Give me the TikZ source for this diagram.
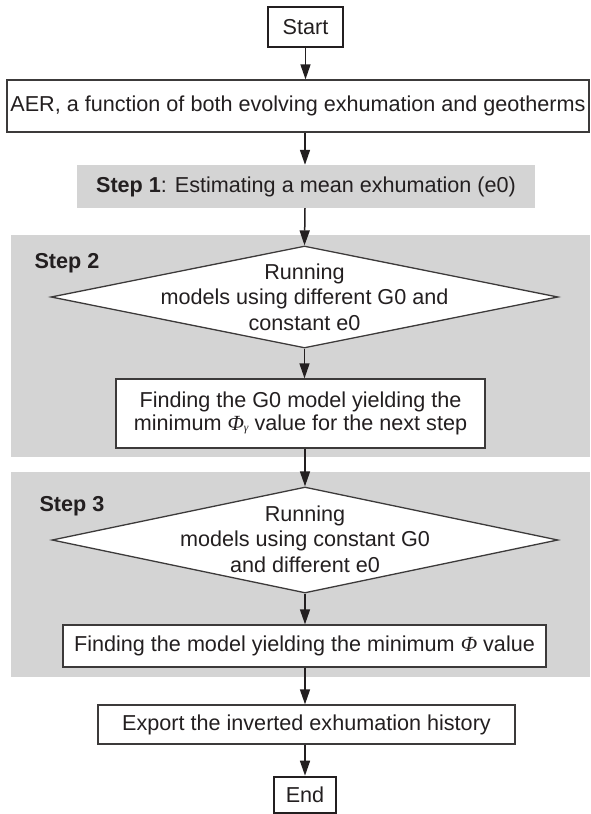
\documentclass[tikz,border=0pt]{standalone}
\usepackage{fontspec}
\setmainfont{Liberation Sans}
\newfontfamily\phifont{Liberation Serif}
\usetikzlibrary{arrows.meta,shapes.geometric}
\definecolor{panel}{RGB}{212,212,212}
\definecolor{ink}{RGB}{35,31,32}
\definecolor{edge}{RGB}{60,58,58}
\begin{document}
\begin{tikzpicture}[x=1pt,y=-1pt,
  every node/.style={font=\fontsize{21.6}{23}\selectfont, text=ink},
  box/.style={draw=edge, line width=1.3pt, fill=white, inner sep=0pt, anchor=center},
  termbox/.style={draw=ink, line width=2.6pt, fill=white, inner sep=0pt, anchor=center},
  greybox/.style={fill=panel, draw=none, inner sep=0pt, anchor=center},
  decision/.style={diamond, draw=edge, line width=1.3pt, fill=white, inner sep=0pt, aspect=4.9},
  dectext/.style={align=center, font=\fontsize{21.6}{25.5}\selectfont},
  flow/.style={draw=ink, line width=1.5pt, -{Triangle[length=15pt,width=10pt]}},
  steplabel/.style={font=\fontsize{21.6}{23}\selectfont\bfseries, anchor=base west}]
\useasboundingbox (0,0) rectangle (590,814);
% panels
\node[greybox, minimum width=579pt, minimum height=222pt] (panel2) at (300.5,346) {};
\node[greybox, minimum width=579pt, minimum height=205pt] (panel3) at (300.5,574.5) {};
\node[steplabel] (lab2) at (31,268) {Step 2};
\node[steplabel] (lab3) at (36,511) {Step 3};
% nodes
\node[termbox, minimum width=75pt, minimum height=40pt] (start) at (305.5,27) {Start};
\node[box, minimum width=582pt, minimum height=52pt] (aer) at (298,106) {AER, a function of both evolving exhumation and geotherms};
\node[greybox, minimum width=458pt, minimum height=43pt] (step1) at (306,186.5) {\textbf{Step 1}: Estimating a mean exhumation (e0)};
\node[decision, minimum width=507pt, minimum height=102pt] (dec2) at (304.5,297) {};
\node[dectext] (dec2t) at (304.5,297) {Running\\models using different G0 and\\constant e0};
\node[box, minimum width=369pt, minimum height=69pt, align=center, font=\fontsize{21.6}{22.5}\selectfont] (find2) at (300.5,413.5) {Finding the G0 model yielding the\\minimum {\phifont\itshape Φ\raisebox{-1.5pt}{\fontsize{11.5}{11.5}\selectfont γ}} value for the next step};
\node[decision, minimum width=506pt, minimum height=106pt] (dec3) at (305,540) {};
\node[dectext] (dec3t) at (305,539) {Running\\models using constant G0\\and different e0};
\node[box, minimum width=483pt, minimum height=42pt] (find3) at (304.5,646) {Finding the model yielding the minimum {\phifont\itshape Φ} value};
\node[box, minimum width=417pt, minimum height=39pt] (export) at (306.5,724.5) {Export the inverted exhumation history};
\node[termbox, minimum width=62pt, minimum height=36pt] (end) at (305,795) {End};
% connectors
\coordinate (axis) at (305,0);
\draw[flow] (start.south) -- (start.south |- aer.north);
\draw[flow] (aer.south -| axis) -- (axis |- step1.north);
\draw[flow] (step1.south -| axis) -- (dec2.north);
\draw[flow] (dec2.south) -- (dec2.south |- find2.north);
\draw[flow] (find2.south -| dec3.north) -- (dec3.north);
\draw[flow] (dec3.south) -- (dec3.south |- find3.north);
\draw[flow] (find3.south -| axis) -- (axis |- export.north);
\draw[flow] (export.south -| axis) -- (axis |- end.north);
\end{tikzpicture}
\end{document}
